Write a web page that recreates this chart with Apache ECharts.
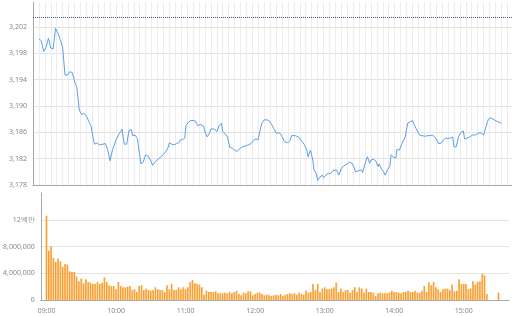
<!DOCTYPE html>
<html>
<head>
<meta charset="utf-8">
<script src="https://cdn.jsdelivr.net/npm/echarts@6/dist/echarts.min.js"></script>
<style>html,body{margin:0;padding:0;background:#fff}#c{width:512px;height:316px}</style>
</head>
<body>
<div id="c"></div>
<script>
// ---- data ----
const priceTimes = ["09:00","09:02","09:04","09:06","09:08","09:10","09:12","09:14","09:16","09:18","09:20","09:22","09:24","09:26","09:28","09:30","09:32","09:34","09:36","09:38","09:40","09:42","09:44","09:46","09:47","09:49","09:51","09:52","09:54","09:56","09:58",
"10:00","10:02","10:05","10:07","10:09","10:10","10:12","10:14","10:16","10:18","10:19","10:21","10:23","10:24","10:26","10:28","10:30","10:32","10:34","10:36","10:38","10:41","10:43","10:45","10:47","10:49","10:50","10:52","10:54","10:56","10:58","10:59",
"11:01","11:03","11:04","11:06","11:08","11:10","11:12","11:14","11:16","11:19","11:20","11:22","11:24","11:25","11:28","11:30","11:32","11:34","11:35","11:37","11:39","11:41","11:43","11:45","11:47","11:48","11:50","11:52","11:53","11:55","11:57","11:59",
"12:01","12:03","12:05","12:06","12:08","12:10","12:12","12:14","12:16","12:18","12:20","12:21","12:23","12:25","12:27","12:28","12:30","12:32","12:33","12:36","12:37","12:39","12:41","12:42","12:44","12:46","12:47","12:49","12:51","12:52","12:54","12:55","12:57","12:59",
"13:00","13:02","13:04","13:06","13:08","13:09","13:11","13:13","13:15","13:17","13:18","13:20","13:22","13:24","13:26","13:27","13:28","13:30","13:32","13:33","13:35","13:37","13:39","13:40","13:42","13:44","13:46","13:47","13:49","13:51","13:52","13:54","13:56","13:57","13:59",
"14:01","14:02","14:04","14:06","14:07","14:09","14:11","14:12","14:15","14:17","14:18","14:19","14:21","14:23","14:24","14:26","14:28","14:30","14:32","14:33","14:35","14:37","14:39","14:41","14:43","14:45","14:47","14:49","14:50","14:52","14:54","14:56","14:58","14:59",
"15:01","15:03","15:04","15:06","15:08","15:09","15:11","15:13","15:14","15:15","15:17","15:19","15:21","15:22","15:24","15:26","15:27","15:30"];
const prices = [3200.2,3199.9,3198.3,3198.9,3200.3,3198.8,3198.7,3201.8,3201.1,3200.1,3198.9,3194.7,3194.7,3195.2,3195.1,3193.8,3192.8,3189.4,3188.7,3188.9,3188.5,3187.7,3186.9,3184.8,3184.2,3184.4,3184.1,3184.4,3184.2,3184.3,3183.4,
3181.7,3183.3,3184.8,3185.6,3186.1,3186.5,3184.2,3184.2,3186.3,3186.4,3185.5,3185.6,3185.1,3183.8,3181.2,3181.5,3182.6,3182.4,3181.8,3181.0,3181.5,3182.0,3182.3,3182.6,3183.1,3183.7,3184.4,3184.2,3184.1,3184.3,3184.4,3184.8,
3184.9,3185.1,3187.0,3187.5,3187.8,3187.8,3187.7,3187.0,3187.2,3186.9,3186.1,3185.3,3185.9,3186.5,3186.5,3186.1,3187.0,3187.4,3186.1,3185.8,3185.3,3183.7,3183.6,3183.3,3183.1,3182.9,3183.6,3183.8,3184.1,3184.0,3184.1,3184.3,
3184.8,3185.0,3184.9,3185.9,3187.4,3187.9,3187.9,3187.8,3187.3,3186.6,3185.9,3185.9,3185.9,3185.4,3184.6,3184.3,3184.4,3184.8,3185.5,3185.5,3185.4,3185.3,3184.8,3185.1,3184.1,3183.3,3182.3,3183.3,3181.8,3180.3,3179.7,3178.7,3179.2,3179.5,
3179.1,3179.5,3179.8,3179.7,3180.2,3180.4,3180.3,3179.5,3180.5,3180.9,3180.9,3181.2,3181.5,3181.3,3180.6,3180.0,3179.9,3180.2,3180.3,3179.9,3181.2,3182.3,3181.3,3181.8,3181.9,3181.7,3180.8,3181.2,3180.4,3179.9,3179.5,3180.3,3180.9,3182.6,3182.2,
3182.1,3183.4,3183.3,3184.2,3184.6,3185.3,3187.4,3187.7,3187.8,3187.0,3186.6,3186.8,3185.6,3185.5,3185.3,3185.4,3185.5,3185.5,3185.6,3185.4,3185.0,3184.3,3184.3,3184.8,3185.1,3185.1,3185.1,3185.3,3183.8,3183.8,3185.4,3186.0,3186.2,3185.0,
3185.1,3185.3,3185.5,3185.6,3185.6,3185.6,3185.9,3185.9,3185.8,3185.6,3186.8,3188.0,3188.2,3188.1,3187.9,3187.7,3187.6,3187.4];
const previousClose = 3203.5;

// volume in millions of shares, one bar per 2 minutes from 09:00 to 15:20, then closing auction 15:30
const volumeStart = "09:00";
const volumeStepMinutes = 2;
const volumesMillions = [12.6,7.4,8.0,6.3,5.7,6.2,5.8,5.0,5.4,5.3,4.3,4.2,4.2,3.5,2.8,3.2,2.5,3.1,2.7,2.6,2.4,2.4,2.7,2.4,2.6,3.4,2.7,2.2,2.1,2.1,1.6,2.7,2.1,1.9,1.9,2.0,2.1,1.5,1.6,1.2,2.1,2.2,1.5,1.7,1.5,1.4,1.5,1.9,1.6,1.5,1.5,1.2,2.2,1.6,2.4,1.5,1.5,1.9,1.6,1.9,1.6,1.9,2.7,3.0,2.5,
2.4,2.3,1.9,0.8,1.4,1.2,1.2,1.2,1.3,1.0,1.0,1.0,1.1,1.0,1.2,1.0,1.2,1.4,0.9,0.7,1.1,1.0,1.3,1.3,0.7,0.9,1.1,1.1,0.9,0.7,0.8,0.7,0.6,0.7,0.8,0.7,0.9,0.6,0.8,0.9,1.0,0.9,1.0,0.8,1.1,0.9,0.8,1.4,1.1,1.2,2.4,1.5,2.4,1.2,1.7,1.9,1.6,1.6,1.7,1.9,2.6,1.2,1.7,1.2,1.5,1.5,1.1,1.5,1.9,
1.2,1.9,1.7,1.1,1.7,1.2,1.2,1.1,0.6,1.0,1.1,1.0,1.0,1.0,1.1,1.4,1.2,1.2,1.1,1.0,1.2,1.2,1.4,1.2,1.2,1.4,1.1,1.1,1.4,2.1,1.2,2.6,2.2,2.7,1.9,1.6,1.2,1.6,1.7,1.7,1.5,2.3,1.3,1.4,3.1,2.4,2.4,2.4,1.6,1.7,2.8,2.3,2.7,2.8,3.9,3.7,0.9];
const closingAuctionTime = "15:30";
const closingAuctionMillions = 1.1;

const hourLabels = ["09:00","10:00","11:00","12:00","13:00","14:00","15:00"];
const priceTicks = [3178,3182,3186,3190,3194,3198,3202];
const volumeTicks = [0,4000000,8000000,12000000];

// ---- helpers ----
function toMin(s){const p=s.split(':');return +p[0]*60+ +p[1];}
function fmtTime(m){const h=Math.floor(m/60),mm=m%60;return (h<10?'0':'')+h+':'+(mm<10?'0':'')+mm;}
const linePts = priceTimes.map((t,i)=>[toMin(t),prices[i]]);
const v0 = toMin(volumeStart);
const barPts = volumesMillions.map((v,i)=>[v0+i*volumeStepMinutes, v*1e6]);
barPts.push([toMin(closingAuctionTime), closingAuctionMillions*1e6]);
const hourSet = new Set(hourLabels.map(toMin));

const labelStyle = {fontSize:7, color:'#888', fontFamily:'Noto Sans, sans-serif'};
const xMin = 535, xMax = 939;

const chart = echarts.init(document.getElementById('c'), null, {renderer:'canvas'});
chart.setOption({
  animation:false,
  backgroundColor:'#fff',
  grid:[
    {left:33, right:0, top:2, height:183},
    {left:33, right:0, top:193, height:107}
  ],
  xAxis:[
    {gridIndex:0, type:'value', min:xMin, max:xMax, interval:5,
     axisLine:{show:true, lineStyle:{color:'#a8a8a8'}}, axisTick:{show:false}, axisLabel:{show:false},
     splitLine:{show:true, lineStyle:{color:'#ececec', width:1}}},
    {gridIndex:1, type:'value', min:xMin, max:xMax, interval:5,
     axisLine:{show:true, lineStyle:{color:'#a8a8a8'}}, axisTick:{show:false},
     axisLabel:Object.assign({margin:7, formatter:v=>hourSet.has(v)?fmtTime(v):''}, labelStyle),
     splitLine:{show:false}}
  ],
  yAxis:[
    {gridIndex:0, type:'value', min:priceTicks[0], max:3205.8, interval:4,
     axisLine:{show:true, lineStyle:{color:'#a8a8a8'}}, axisTick:{show:false},
     axisLabel:Object.assign({margin:6, showMaxLabel:false, formatter:v=>priceTicks.indexOf(v)>=0?v.toLocaleString('en-US'):''}, labelStyle),
     splitLine:{show:true, showMaxLine:false, lineStyle:{color:'#e2e2e2'}}},
    {gridIndex:1, type:'value', min:0, max:16000000, interval:4000000,
     axisLine:{show:true, lineStyle:{color:'#a8a8a8'}}, axisTick:{show:false},
     axisLabel:Object.assign({margin:6, showMaxLabel:false, formatter:v=>{
        if(volumeTicks.indexOf(v)<0) return '';
        if(v===12000000) return '12백만';
        return v.toLocaleString('en-US');}}, labelStyle),
     splitLine:{show:true, showMaxLine:false, lineStyle:{color:'#e2e2e2'}}}
  ],
  series:[
    {type:'line', xAxisIndex:0, yAxisIndex:0, data:linePts, showSymbol:false, symbol:'none',
     lineStyle:{color:'#5c9fe6', width:1},
     markLine:{silent:true, symbol:['none','none'], label:{show:false},
       lineStyle:{type:'dotted', color:'#4a5a80', width:1},
       data:[{yAxis:previousClose}]}},
    {type:'bar', xAxisIndex:1, yAxisIndex:1, data:barPts, barWidth:1.7,
     itemStyle:{color:new echarts.graphic.LinearGradient(0,0,1,0,[{offset:0,color:'#f78b12'},{offset:1,color:'#fcb95a'}])}}
  ]
});
</script>
</body>
</html>
